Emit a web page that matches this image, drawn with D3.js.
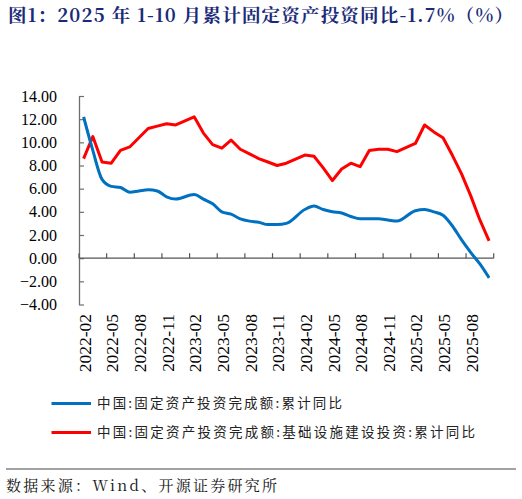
<!DOCTYPE html>
<html>
<head>
<meta charset="utf-8">
<script src="https://cdn.jsdelivr.net/npm/d3@7"></script>
<style>
  html, body { margin: 0; padding: 0; background: #fff; }
  svg { display: block; }
</style>
</head>
<body>
<svg id="chart" width="522" height="499"></svg>
<script>
// ---------- data ----------
const months = [
  "2022-02","2022-03","2022-04","2022-05","2022-06","2022-07","2022-08","2022-09","2022-10","2022-11","2022-12",
  "2023-01","2023-02","2023-03","2023-04","2023-05","2023-06","2023-07","2023-08","2023-09","2023-10","2023-11","2023-12",
  "2024-01","2024-02","2024-03","2024-04","2024-05","2024-06","2024-07","2024-08","2024-09","2024-10","2024-11","2024-12",
  "2025-01","2025-02","2025-03","2025-04","2025-05","2025-06","2025-07","2025-08","2025-09","2025-10"
];
// 中国:固定资产投资完成额:累计同比 (January not published)
const faiYoY = [
  12.2, 9.3, 6.8, 6.2, 6.1, 5.7, 5.8, 5.9, 5.8, 5.3, 5.1,
  null, 5.5, 5.1, 4.7, 4.0, 3.8, 3.4, 3.2, 3.1, 2.9, 2.9, 3.0,
  null, 4.2, 4.5, 4.2, 4.0, 3.9, 3.6, 3.4, 3.4, 3.4, 3.3, 3.2,
  null, 4.1, 4.2, 4.0, 3.7, 2.8, 1.6, 0.5, -0.5, -1.7
];
// 中国:固定资产投资完成额:基础设施建设投资:累计同比
const infraYoY = [
  8.6, 10.5, 8.3, 8.2, 9.3, 9.6, 10.4, 11.2, 11.4, 11.6, 11.5,
  null, 12.2, 10.8, 9.8, 9.5, 10.2, 9.4, 9.0, 8.6, 8.3, 8.0, 8.2,
  null, 8.9, 8.8, 7.8, 6.7, 7.7, 8.2, 7.9, 9.3, 9.4, 9.4, 9.2,
  null, 9.9, 11.5, 10.9, 10.4, 8.9, 7.3, 5.4, 3.3, 1.5
];
const xTickLabels = ["2022-02","2022-05","2022-08","2022-11","2023-02","2023-05","2023-08","2023-11",
  "2024-02","2024-05","2024-08","2024-11","2025-02","2025-05","2025-08"];
const yTicks = [-4, -2, 0, 2, 4, 6, 8, 10, 12, 14];
const seriesNames = ["中国:固定资产投资完成额:累计同比", "中国:固定资产投资完成额:基础设施建设投资:累计同比"];
const titleText = "图1：2025 年 1-10 月累计固定资产投资同比-1.7%（%）";
const sourceText = "数据来源：Wind、开源证券研究所";

// ---------- drawing ----------
const svg = d3.select("#chart");
const serif = "'Liberation Serif','Times New Roman',serif";
const cjk = "'Noto Sans CJK SC','Noto Sans',sans-serif";

const x = d3.scaleBand().domain(months).range([79, 493.7]).padding(0);
const y = d3.scaleLinear().domain([-4, 14]).range([304.5, 96]);
const cx = m => x(m) + x.bandwidth() / 2;

// title
svg.append("text")
  .attr("x", 8).attr("y", 22)
  .attr("font-family", "'Noto Serif CJK SC','Noto Sans CJK SC',serif")
  .attr("font-weight", "bold")
  .attr("font-size", 18.5)
  .attr("fill", "#1b2a78")
  .attr("textLength", 505).attr("lengthAdjust", "spacing")
  .text(titleText);

// y axis
const yAxis = d3.axisLeft(y).tickValues(yTicks)
  .tickFormat(d3.format(".2f"))
  .tickSizeInner(-5).tickSizeOuter(0).tickPadding(22);
const gy = svg.append("g").attr("transform", "translate(79,0)").call(yAxis);
gy.select(".domain").attr("stroke", "#6e6e6e").attr("stroke-width", 1.3);
gy.selectAll(".tick line").attr("stroke", "#6e6e6e").attr("stroke-width", 1.2);
gy.selectAll(".tick text").attr("font-family", serif).attr("font-size", 16).attr("fill", "#000");

// x axis line at zero
const gx = svg.append("g");
gx.append("line")
  .attr("x1", x.range()[0]).attr("x2", x.range()[1])
  .attr("y1", y(0)).attr("y2", y(0))
  .attr("stroke", "#555").attr("stroke-width", 1.3);
const tickPos = xTickLabels.map(m => x(m)).concat([x.range()[1]]);
gx.selectAll("line.xt").data(tickPos).enter().append("line")
  .attr("class", "xt")
  .attr("x1", d => d).attr("x2", d => d)
  .attr("y1", y(0)).attr("y2", y(0) - 5)
  .attr("stroke", "#555").attr("stroke-width", 1.2);
gx.selectAll("text").data(xTickLabels).enter().append("text")
  .attr("transform", d => `translate(${cx(d) + 1},314) rotate(-90)`)
  .attr("text-anchor", "end")
  .attr("dy", "0.35em")
  .attr("font-family", serif).attr("font-size", 17.5).attr("fill", "#000")
  .text(d => d);

// lines
const toPts = vals => months.map((m, i) => ({ m, v: vals[i] })).filter(p => p.v !== null);
const lineSmooth = d3.line().x(p => cx(p.m)).y(p => y(p.v)).curve(d3.curveMonotoneX);
const lineStraight = d3.line().x(p => cx(p.m)).y(p => y(p.v)).curve(d3.curveLinear);

svg.append("path").datum(toPts(infraYoY))
  .attr("d", lineStraight).attr("fill", "none")
  .attr("stroke", "#ff0000").attr("stroke-width", 3).attr("stroke-linejoin", "round");
svg.append("path").datum(toPts(faiYoY))
  .attr("d", lineSmooth).attr("fill", "none")
  .attr("stroke", "#0070c0").attr("stroke-width", 3).attr("stroke-linejoin", "round");

// legend
const legend = [
  { name: seriesNames[0], color: "#0070c0", y: 403.5, len: 245 },
  { name: seriesNames[1], color: "#ff0000", y: 432.5, len: 378 }
];
const lg = svg.append("g");
lg.selectAll("line").data(legend).enter().append("line")
  .attr("x1", 51.5).attr("x2", 91).attr("y1", d => d.y).attr("y2", d => d.y)
  .attr("stroke", d => d.color).attr("stroke-width", 3);
lg.selectAll("text").data(legend).enter().append("text")
  .attr("x", 97).attr("y", d => d.y).attr("dy", "0.36em")
  .attr("font-family", cjk).attr("font-size", 13.5).attr("fill", "#222")
  .attr("textLength", d => d.len).attr("lengthAdjust", "spacing")
  .text(d => d.name);

// footer
svg.append("line").attr("x1", 6).attr("x2", 516).attr("y1", 469).attr("y2", 469)
  .attr("stroke", "#444").attr("stroke-width", 1);
svg.append("text").attr("x", 6).attr("y", 491)
  .attr("font-family", "'Noto Serif CJK SC','Noto Sans CJK SC',serif")
  .attr("font-size", 15).attr("fill", "#111")
  .attr("textLength", 271).attr("lengthAdjust", "spacing")
  .text(sourceText);
</script>
</body>
</html>
